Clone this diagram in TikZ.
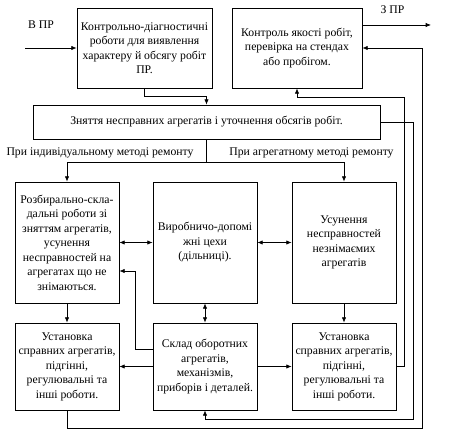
\documentclass[tikz,border=0pt]{standalone}
\usepackage{fontspec}
\setmainfont{Liberation Serif}
\usepackage{tikz}
\usetikzlibrary{arrows.meta, positioning, calc}

\begin{document}
\begin{tikzpicture}[x=0.03cm, y=0.03cm, font=\fontsize{10}{12.4}\selectfont,
  s/.style={draw, line width=0.6pt, align=center, inner sep=1mm},
  top/.style={s, minimum height=2.4cm},
  mid/.style={s, minimum width=3.12cm, minimum height=3.63cm},
  low/.style={s, minimum width=3.12cm, minimum height=2.61cm},
  a/.style={-{Latex[length=1.6mm, width=1.3mm]}, line width=0.6pt},
  aa/.style={{Latex[length=1.6mm, width=1.3mm]}-{Latex[length=1.6mm, width=1.3mm]}, line width=0.6pt},
  lb/.style={inner sep=1pt}]
  \useasboundingbox (0,0) rectangle (463,442);
  % top row
  \node[top, minimum width=4.05cm] (diag) at (144.5,394) {Контрольно-діагностичні \\ роботи для виявлення \\ характеру й обсягу робіт \\ ПР.};
  \node[top, minimum width=3.9cm] (qual) at (297,394) {Контроль якості робіт, \\ перевірка на стендах \\ або пробігом.};
  \coordinate (in) at (25,394);
  \coordinate (out) at (431,417);
  \node[lb] (inlb) at (41,417) {В ПР};
  \node[lb] (outlb) at (392.5,432) {З ПР};
  \draw[a] (in) -- (diag.west);
  \draw[a] (out -| qual.east) -- (out);
  % removal
  \node[s, minimum width=10.41cm, minimum height=1.02cm] (remv) at (206.5,320) {Зняття несправних агрегатів і уточнення обсягів робіт.};
  \draw[a] (diag.south) -- ++(0,-8) -| (remv.north);
  \node[lb] (indlb) at (100,289) {При індивідуальному методі ремонту};
  \node[lb] (agglb) at (311.5,289) {При агрегатному методі ремонту};
  % middle row
  \node[mid] (disas) at (67,199.5) {Розбирально-скла- \\ дальні роботи зі \\ зняттям агрегатів, \\ усунення \\ несправностей на \\ агрегатах що не \\ знімаються.};
  \node[mid] (shop) at (205,199.5) {Виробничо-допомі \\ жні цехи \\ (дільниці).};
  \node[mid] (fix) at (344,199.5) {Усунення \\ несправностей \\ незнімаємих \\ агрегатів};
  \draw (remv.south) -- ++(0,-23) coordinate (spl);
  \draw[a] (spl) -| (disas.north);
  \draw[a] (spl) -| (fix.north);
  \draw[aa] (disas.east) -- (shop.west);
  \draw[aa] (shop.east) -- (fix.west);
  % bottom row
  \node[low] (instL) at (67,75.5) {Установка \\ справних агрегатів, \\ підгінні, \\ регулювальні та \\ інші роботи.};
  \node[low] (store) at (205,75.5) {Склад оборотних \\ агрегатів, \\ механізмів, \\ приборів і деталей.};
  \node[low] (instR) at (344,75.5) {Установка \\ справних агрегатів, \\ підгінні, \\ регулювальні та \\ інші роботи.};
  \draw[a] (disas.south) -- (instL.north);
  \draw[a] (fix.south) -- (instR.north);
  \draw[aa] (shop.south) -- (store.north);
  \draw[a] (store.west) -- (instL.east);
  \draw[a] (store.east) -- (instR.west);
  \draw[a] ([yshift=5.25mm]store.west) -- ++(-17,0) |- ([yshift=-8.55mm]disas.east);
  % return loops
  \draw[a] (instR.east) -| (404,345) -| (qual.south);
  \draw[a] (remv.east) -| (413,23) -| (store.south);
  \draw[a] (instL.south) |- (422,14) |- (qual.east);
\end{tikzpicture}
\end{document}
